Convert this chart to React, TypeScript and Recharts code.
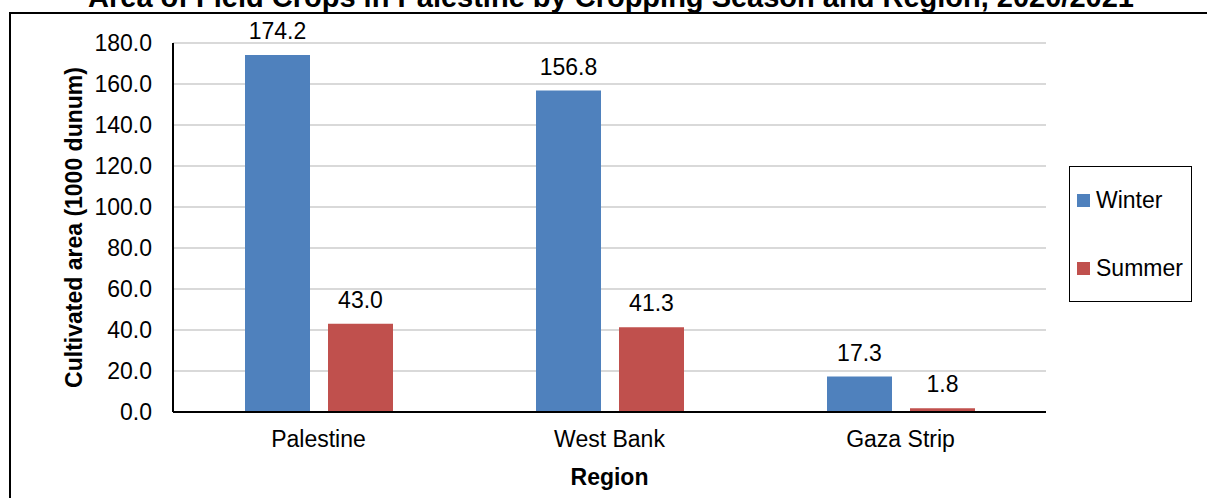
import { Bar, BarChart, CartesianGrid, LabelList, XAxis, YAxis } from 'recharts'

const regions = ['Palestine', 'West Bank', 'Gaza Strip']
const winter = [174.2, 156.8, 17.3]
const summer = [43.0, 41.3, 1.8]
const yTicks = [0, 20, 40, 60, 80, 100, 120, 140, 160, 180]

const seriesNames = ['Winter', 'Summer']
const colors = ['#4F81BD', '#C0504D']

const font = '"Liberation Sans", Arial, sans-serif'

const data = regions.map((r, i) => ({ region: r, winter: winter[i], summer: summer[i] }))

function YTitle(props: any) {
  const vb = props.viewBox || {}
  const x = vb.x + 81.5
  const y = vb.y + vb.height / 2
  return (
    <text
      x={x}
      y={y}
      transform={`rotate(-90 ${x} ${y})`}
      textAnchor="middle"
      fontFamily={font}
      fontSize={23}
      fontWeight="bold"
      fill="#000"
    >
      Cultivated area (1000 dunum)
    </text>
  )
}

export default function App() {
  return (
    <div style={{ position: 'absolute', left: 0, top: 0, width: 1207, height: 498, overflow: 'hidden', background: '#fff' }}>
      <div
        style={{
          position: 'absolute',
          left: 9,
          top: 12,
          width: 1300,
          height: 600,
          border: '2px solid #000',
        }}
      />
      <svg width={1207} height={40} style={{ position: 'absolute', left: 0, top: 0 }}>
        <text x={611} y={7} textAnchor="middle" fontFamily={font} fontSize={29} fontWeight="bold" fill="#000">
          Area of Field Crops in Palestine by Cropping Season and Region, 2020/2021
        </text>
      </svg>
      <div style={{ position: 'absolute', left: 0, top: 0 }}>
        <BarChart
          width={1207}
          height={498}
          data={data}
          margin={{ top: 43, right: 161, bottom: 0, left: 0 }}
          barGap={18}
        >
          <CartesianGrid vertical={false} stroke="#d9d9d9" strokeWidth={2} />
          <XAxis
            dataKey="region"
            height={86}
            tickLine={false}
            tickSize={0}
            tickMargin={19}
            axisLine={{ stroke: '#000', strokeWidth: 2 }}
            tick={{ fill: '#000', fontSize: 23, fontFamily: font }}
            label={{ value: 'Region', position: 'insideBottom', offset: 13, fill: '#000', fontSize: 23, fontWeight: 'bold', fontFamily: font }}
          />
          <YAxis
            width={173}
            domain={[0, 180]}
            ticks={yTicks}
            interval={0}
            tickLine={false}
            tickSize={0}
            tickMargin={21}
            tickFormatter={(v: number) => v.toFixed(1)}
            axisLine={{ stroke: '#000', strokeWidth: 2 }}
            tick={{ fill: '#000', fontSize: 23, fontFamily: font }}
            label={<YTitle />}
          />
          <Bar dataKey="winter" name={seriesNames[0]} fill={colors[0]} barSize={65} isAnimationActive={false}>
            <LabelList
              dataKey="winter"
              position="top"
              offset={16}
              formatter={(v: any) => Number(v).toFixed(1)}
              style={{ fill: '#000', fontSize: 23, fontFamily: font }}
            />
          </Bar>
          <Bar dataKey="summer" name={seriesNames[1]} fill={colors[1]} barSize={65} isAnimationActive={false}>
            <LabelList
              dataKey="summer"
              position="top"
              offset={16}
              formatter={(v: any) => Number(v).toFixed(1)}
              style={{ fill: '#000', fontSize: 23, fontFamily: font }}
            />
          </Bar>
        </BarChart>
      </div>
      <div
        style={{
          position: 'absolute',
          left: 1069,
          top: 166,
          width: 121,
          height: 134,
          border: '1.5px solid #000',
          fontFamily: font,
          fontSize: 23,
          color: '#000',
        }}
      >
        {seriesNames.map((n, i) => (
          <div
            key={n}
            style={{
              position: 'absolute',
              left: 7,
              top: i === 0 ? 20 : 88,
              height: 26,
              display: 'flex',
              alignItems: 'center',
              whiteSpace: 'nowrap',
            }}
          >
            <span style={{ display: 'inline-block', width: 13, height: 13, background: colors[i], marginRight: 6 }} />
            {n}
          </div>
        ))}
      </div>
    </div>
  )
}
